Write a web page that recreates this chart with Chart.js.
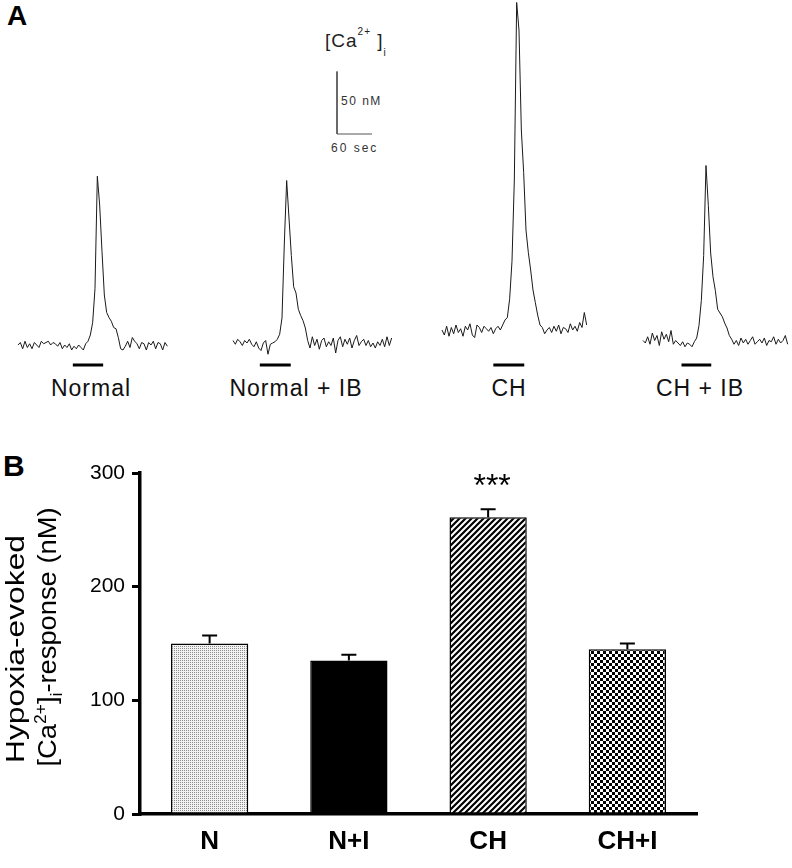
<!DOCTYPE html>
<html>
<head>
<meta charset="utf-8">
<script src="https://cdn.jsdelivr.net/npm/chart.js@4.4.1/dist/chart.umd.min.js"></script>
<style>
  html, body { margin: 0; padding: 0; background: #fff; }
  #page { position: relative; width: 792px; height: 868px; overflow: hidden;
          font-family: Arial, "Liberation Sans", sans-serif; color: #000; }
  #page canvas { position: absolute; }
  .lbl { position: absolute; white-space: nowrap; line-height: 1; }
  .trace-lbl { width: 200px; text-align: center; font-size: 23px; letter-spacing: 1px; top: 377px; color: #111; }
  .sup, .sub { position: relative; font-size: 10px; }
  .sup { top: -12px; }
  .sub { top: 9px; }
</style>
</head>
<body>
<div id="page">
  <div class="lbl" style="left:7px; top:2px; font-size:28px; font-weight:bold;">A</div>
  <div class="lbl" style="left:3px; top:451px; font-size:30px; font-weight:bold;">B</div>

  <!-- calibration labels -->
  <div class="lbl" style="left:325px; top:31px; font-size:19px; letter-spacing:1px; color:#222;">[Ca<span class="sup">2+</span>&nbsp;]<span class="sub">i</span></div>
  <div class="lbl" style="left:341px; top:95px; font-size:12px; letter-spacing:1.5px; color:#333;">50 nM</div>
  <div class="lbl" style="left:331px; top:142px; font-size:12px; letter-spacing:2px; color:#333;">60 sec</div>

  <!-- trace names -->
  <div class="lbl trace-lbl" style="left:-9px;">Normal</div>
  <div class="lbl trace-lbl" style="left:196px;">Normal + IB</div>
  <div class="lbl trace-lbl" style="left:409px;">CH</div>
  <div class="lbl trace-lbl" style="left:600px;">CH + IB</div>
</div>

<script>
// ---- Panel A: [Ca2+]i traces (nM above baseline, one sample every 4 s) ----
const SAMPLE_SEC = 4;

const normalTrace = [
  0, 2, -3, 3, -2, 1, -3, 2, 0, -2, 3, 1, 2, 3, 0, 2, 1, -1, 2, -3,
  0, -2, 1, -4, -1, -3, 0, -2, -4, 1,
  3, 8, 18, 45, 135, 112, 75, 40, 26, 22, 19, 14, 13, 6, -3, -4,
  -1, 3, -2, 6, 3, 1, -3, 2, 1, -4, 2, 0, 3, -3, 2, 1, -4, 2, -1
];
const normalIbTrace = [
  2, -1, 3, 1, -2, 2, 0, 3, -1, -3, 1, -4, -6, 0, 2, -9, -1, 0, 1,
  3, 7, 20, 80, 130, 100, 70, 45, 40, 27, 22, 18, 12, 2,
  -4, 5, -2, 3, -5, 2, 4, -3, 1, -2, 4, -8, 2, 5, -3, 3, -1, 4, -4, 2,
  6, -2, 1, 3, -2, 2, -3, 0, -4, 1, -2, 3, -3, 5, -2, 4
];
const chTrace = [
  0, -4, 3, -5, 2, -3, 4, -2, 1, -5, 3, 0, 5, -4, -6, 4, 2, -2, 3, 1,
  -1, 2, -3, 1, 3, 0, 4, 8,
  10, 25, 55, 120, 262, 240, 160, 126, 80, 62, 48, 32, 22, 12, 4, 2,
  -3, 0, 2, -2, 3, -1, 4, -3, 2, 1, -2, 5, 0, 3, -1, 6, 2, 14, 4
];
const chIbTrace = [
  2, 0, 5, -1, 8, 2, 6, -2, 9, 3, 7, 1, 10, -1, 2, 0, -2, 1, -3, 0,
  -1, -3, 1,
  4, 14, 34, 70, 142, 110, 72, 53, 42, 27, 24, 21, 16, 12, 6, 3,
  -1, 2, -2, 4, 0, 3, -1, 2, 5, -1, 1, 3, 0, 4, -2, 2, 1, 5, -1, 3, 0, 2, 6, -1
];

// hypoxia period for each trace, seconds from trace start
const normalHypoxia = [94, 146];
const normalIbHypoxia = [46, 99];
const chHypoxia = [88, 141];
const chIbHypoxia = [66, 117];

// calibration bar
const scaleBarNM = 50;
const scaleBarSec = 60;

// ---- Panel B: hypoxia-evoked response ----
const groupLabels = ['N', 'N+I', 'CH', 'CH+I'];
const meanResponse = [150, 135, 261, 145];
const semResponse = [7, 5, 7, 5];
const significance = ['', '', '***', ''];
const yTicksMin = 0;
const yTicksMax = 300;
const yTicksStep = 100;

// ---- layout / style ----
const FONT = 'Arial, "Liberation Sans", sans-serif';
const PX_PER_NM = 1.25;
const PX_PER_SEC = 0.5833;
const TRACE_CANVAS_H = 375;
const HYPOXIA_BAR_Y = 365;
const TRACE_COLOR = '#1a1a1a';

const page = document.getElementById('page');

function addCanvas(left, top, w, h) {
  const c = document.createElement('canvas');
  c.width = w;
  c.height = h;
  c.style.left = left + 'px';
  c.style.top = top + 'px';
  page.appendChild(c);
  return c;
}

// black bar under each trace showing the hypoxic period
const hypoxiaBarPlugin = {
  id: 'hypoxiaBar',
  afterDatasetsDraw(chart, args, opts) {
    const xs = chart.scales.x;
    const x1 = xs.getPixelForValue(opts.start);
    const x2 = xs.getPixelForValue(opts.end);
    const ctx = chart.ctx;
    ctx.save();
    ctx.fillStyle = '#000';
    ctx.fillRect(x1, opts.y - 1.5, x2 - x1, 3);
    ctx.restore();
  }
};

function makeTrace(values, hypoxia, left, baselineY) {
  const pad = 3;
  const lastT = (values.length - 1) * SAMPLE_SEC;
  const w = Math.ceil(lastT * PX_PER_SEC) + 2 * pad;
  const h = TRACE_CANVAS_H;
  const canvas = addCanvas(left - pad, 0, w, h);
  const xMin = -pad / PX_PER_SEC;
  const yMax = baselineY / PX_PER_NM;

  new Chart(canvas, {
    type: 'line',
    data: {
      datasets: [{
        data: values.map((v, i) => ({ x: i * SAMPLE_SEC, y: v })),
        borderColor: TRACE_COLOR,
        borderWidth: 1,
        pointRadius: 0,
        tension: 0,
        clip: false
      }]
    },
    options: {
      responsive: false,
      animation: false,
      events: [],
      layout: { padding: 0 },
      scales: {
        x: { type: 'linear', display: false, min: xMin, max: xMin + w / PX_PER_SEC },
        y: { display: false, min: yMax - h / PX_PER_NM, max: yMax }
      },
      plugins: {
        legend: { display: false },
        tooltip: { enabled: false },
        hypoxiaBar: { start: hypoxia[0], end: hypoxia[1], y: HYPOXIA_BAR_Y }
      }
    },
    plugins: [hypoxiaBarPlugin]
  });
}

makeTrace(normalTrace, normalHypoxia, 18, 345);
makeTrace(normalIbTrace, normalIbHypoxia, 233, 343);
makeTrace(chTrace, chHypoxia, 441.7, 330);
makeTrace(chIbTrace, chIbHypoxia, 642.7, 343);

// calibration bar (50 nM / 60 sec), same pixel scale as the traces
(function() {
  const w = 44, h = 70;
  const canvas = addCanvas(334, 68, w, h);
  const xMin = -3 / PX_PER_SEC;
  const yMax = scaleBarNM + 3.5 / PX_PER_NM;
  new Chart(canvas, {
    type: 'line',
    data: {
      datasets: [{
        data: [{ x: 0, y: scaleBarNM }, { x: 0, y: 0 }, { x: scaleBarSec, y: 0 }],
        borderColor: '#555',
        borderWidth: 1,
        pointRadius: 0,
        tension: 0,
        clip: false
      }]
    },
    options: {
      responsive: false,
      animation: false,
      events: [],
      scales: {
        x: { type: 'linear', display: false, min: xMin, max: xMin + w / PX_PER_SEC },
        y: { display: false, min: yMax - h / PX_PER_NM, max: yMax }
      },
      plugins: { legend: { display: false }, tooltip: { enabled: false } }
    }
  });
})();

// ---- fill patterns for the bars ----
function makePattern(size, draw) {
  const c = document.createElement('canvas');
  c.width = size;
  c.height = size;
  const ctx = c.getContext('2d');
  draw(ctx, size);
  return ctx.createPattern(c, 'repeat');
}

const stipple = makePattern(2, (ctx) => {
  ctx.fillStyle = '#f2f2f2';
  ctx.fillRect(0, 0, 2, 2);
  ctx.fillStyle = '#8a8a8a';
  ctx.fillRect(0, 0, 1, 1);
});

const hatch = makePattern(6, (ctx, s) => {
  ctx.fillStyle = '#fff';
  ctx.fillRect(0, 0, s, s);
  ctx.strokeStyle = '#000';
  ctx.lineWidth = 2.2;
  ctx.beginPath();
  ctx.moveTo(-3, 3); ctx.lineTo(3, -3);
  ctx.moveTo(0, s); ctx.lineTo(s, 0);
  ctx.moveTo(3, s + 3); ctx.lineTo(s + 3, 3);
  ctx.stroke();
});

const checker = makePattern(6, (ctx, s) => {
  ctx.fillStyle = '#fff';
  ctx.fillRect(0, 0, s, s);
  ctx.fillStyle = '#000';
  ctx.fillRect(0, 0, 3, 3);
  ctx.fillRect(3, 3, 3, 3);
});

// error bars + significance stars
const errorBarPlugin = {
  id: 'errorBars',
  afterDatasetsDraw(chart) {
    const meta = chart.getDatasetMeta(0);
    const ys = chart.scales.y;
    const ctx = chart.ctx;
    ctx.save();
    ctx.strokeStyle = '#000';
    ctx.lineWidth = 2;
    meta.data.forEach((bar, i) => {
      const top = ys.getPixelForValue(meanResponse[i] + semResponse[i]);
      ctx.beginPath();
      ctx.moveTo(bar.x, bar.y);
      ctx.lineTo(bar.x, top);
      ctx.moveTo(bar.x - 7.5, top);
      ctx.lineTo(bar.x + 7.5, top);
      ctx.stroke();
      if (significance[i]) {
        ctx.fillStyle = '#000';
        ctx.font = '32px ' + FONT;
        ctx.textAlign = 'center';
        ctx.textBaseline = 'alphabetic';
        ctx.fillText(significance[i], bar.x + 4, top - 13);
      }
    });
    ctx.restore();
  }
};

// two-line rotated y title with super/subscripts
const titleLines = [
  { parts: [{ t: 'Hypoxia-evoked' }], x: 24, y: 199, len: 228 },
  { parts: [{ t: '[Ca' }, { t: '2+', sup: true }, { t: ']' }, { t: 'i', sub: true }, { t: '-response (nM)' }],
    x: 56, y: 187, len: 259 }
];
const TITLE_SIZE = 25;

function partFont(p) {
  return (p.sup || p.sub ? Math.round(TITLE_SIZE * 0.62) : TITLE_SIZE) + 'px ' + FONT;
}

const yTitlePlugin = {
  id: 'yTitle',
  afterDraw(chart) {
    const ctx = chart.ctx;
    titleLines.forEach(line => {
      let w = 0;
      line.parts.forEach(p => { ctx.font = partFont(p); w += ctx.measureText(p.t).width; });
      ctx.save();
      ctx.translate(line.x, line.y);
      ctx.rotate(-Math.PI / 2);
      ctx.scale(line.len / w, 1);
      ctx.fillStyle = '#000';
      ctx.textBaseline = 'alphabetic';
      ctx.textAlign = 'left';
      let x = -w / 2;
      line.parts.forEach(p => {
        ctx.font = partFont(p);
        const dy = p.sup ? -TITLE_SIZE * 0.42 : (p.sub ? TITLE_SIZE * 0.25 : 0);
        ctx.fillText(p.t, x, dy);
        x += ctx.measureText(p.t).width;
      });
      ctx.restore();
    });
  }
};

const barCanvas = addCanvas(0, 450, 792, 418);
new Chart(barCanvas, {
  type: 'bar',
  data: {
    labels: groupLabels,
    datasets: [{
      data: meanResponse,
      backgroundColor: [stipple, '#000', hatch, checker],
      borderColor: '#000',
      borderWidth: 1.5,
      barPercentage: 0.555,
      categoryPercentage: 1
    }]
  },
  options: {
    responsive: false,
    animation: false,
    events: [],
    layout: { padding: { top: 23, right: 95, left: 0, bottom: 0 } },
    scales: {
      x: {
        grid: { display: false },
        border: { color: '#000', width: 3.5 },
        ticks: { color: '#000', font: { family: FONT, size: 26, weight: 'bold' }, padding: 4, maxRotation: 0 },
        afterFit(scale) { scale.height = 54; }
      },
      y: {
        min: yTicksMin,
        max: yTicksMax,
        ticks: { stepSize: yTicksStep, color: '#000', font: { family: FONT, size: 21 }, padding: 7 },
        grid: { drawOnChartArea: false, color: '#000', lineWidth: 3, tickLength: 8 },
        border: { color: '#000', width: 3.5 },
        afterFit(scale) { scale.width = 140; }
      }
    },
    plugins: { legend: { display: false }, tooltip: { enabled: false } }
  },
  plugins: [errorBarPlugin, yTitlePlugin]
});
</script>
</body>
</html>
